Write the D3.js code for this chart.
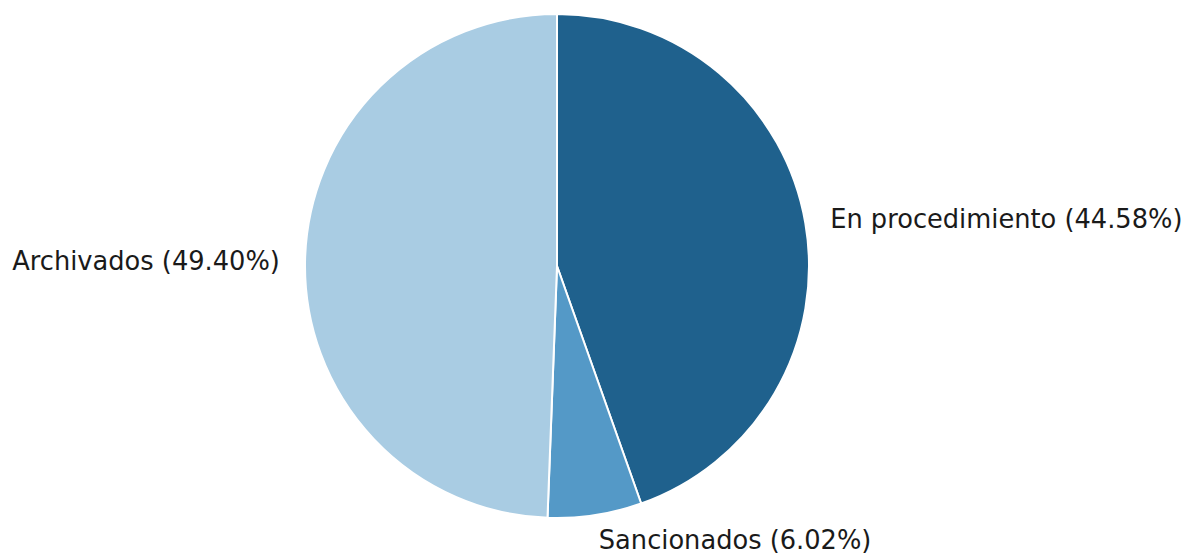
<!doctype html>
<html>
<head>
    <meta charset="utf-8">
    <script src="https://d3js.org/d3.v7.min.js"></script>
    <style>
        body { margin: 0; background: #fff; }
        text { font-family: 'DejaVu Sans', sans-serif; }
    </style>
</head>
<body>
    <div id="chart"></div>
    <script>
        // data
        var labels = ["En procedimiento", "Sancionados", "Archivados"];
        var shares = [44.58, 6.02, 49.40];
        var colors = ["#1F618D", "#5499C7", "#A9CCE3"];

        var width = 1189, height = 553;
        var cx = 557, cy = 266, radius = 252;

        var svg = d3.select("#chart")
            .append("svg")
            .attr("width", width)
            .attr("height", height);

        var g = svg.append("g")
            .attr("transform", "translate(" + cx + "," + cy + ")");

        // clockwise from 12 o'clock, keep order
        var pie = d3.pie().sort(null).value(function (d) { return d; });
        var arcs = pie(shares);

        var arc = d3.arc().innerRadius(0).outerRadius(radius);

        g.selectAll("path")
            .data(arcs)
            .enter()
            .append("path")
            .attr("d", arc)
            .attr("fill", function (d, i) { return colors[i]; })
            .attr("stroke", "#fff")
            .attr("stroke-width", 2)
            .attr("stroke-linejoin", "round");

        // labels at 1.1 * radius, like matplotlib
        var lr = radius * 1.1;
        g.selectAll("text")
            .data(arcs)
            .enter()
            .append("text")
            .attr("x", function (d) {
                var a = (d.startAngle + d.endAngle) / 2;
                return lr * Math.sin(a);
            })
            .attr("y", function (d) {
                var a = (d.startAngle + d.endAngle) / 2;
                return -lr * Math.cos(a);
            })
            .attr("dy", "0.34em")
            .attr("text-anchor", function (d) {
                var a = (d.startAngle + d.endAngle) / 2;
                return Math.sin(a) > 0 ? "start" : "end";
            })
            .attr("font-size", 25.7)
            .attr("fill", "#1a1a1a")
            .text(function (d, i) {
                return labels[i] + " (" + shares[i].toFixed(2) + "%)";
            });
    </script>
</body>
</html>
